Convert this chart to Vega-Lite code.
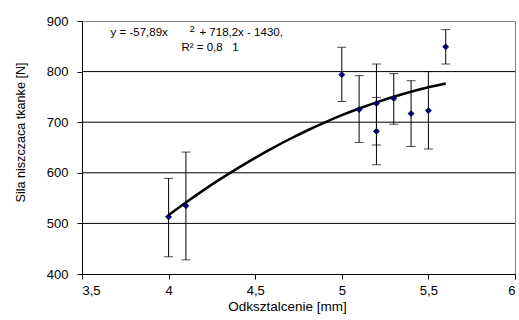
{
  "$schema": "https://vega.github.io/schema/vega-lite/v6.json",
  "width": 433,
  "height": 253,
  "autosize": "none",
  "padding": {"left": 82, "top": 21, "right": 4, "bottom": 46},
  "background": "white",
  "config": {
    "font": "Liberation Sans",
    "view": {"stroke": "#808080", "strokeWidth": 1},
    "axis": {"labelFont": "Liberation Sans", "titleFont": "Liberation Sans", "labelFontSize": 13, "titleFontSize": 13, "titleFontWeight": "normal", "labelColor": "#000", "titleColor": "#000", "domainColor": "#000", "tickColor": "#000"}
  },
  "datasets": {
    "points": [
      {"x": 4.0, "y": 513, "lo": 434, "hi": 589},
      {"x": 4.1, "y": 535, "lo": 428, "hi": 641},
      {"x": 5.0, "y": 794, "lo": 741, "hi": 848},
      {"x": 5.1, "y": 725, "lo": 660, "hi": 792},
      {"x": 5.2, "y": 737, "lo": 655, "hi": 815},
      {"x": 5.2, "y": 682, "lo": 616, "hi": 749},
      {"x": 5.3, "y": 747, "lo": 696, "hi": 796},
      {"x": 5.4, "y": 717, "lo": 652, "hi": 782},
      {"x": 5.5, "y": 723, "lo": 647, "hi": 800},
      {"x": 5.6, "y": 849, "lo": 815, "hi": 883}
    ],
    "trend": [
      {"x": 4.0, "y": 516.6}, {"x": 4.1, "y": 541.5}, {"x": 4.2, "y": 565.3}, {"x": 4.3, "y": 587.9},
      {"x": 4.4, "y": 609.3}, {"x": 4.5, "y": 629.6}, {"x": 4.6, "y": 648.8}, {"x": 4.7, "y": 666.8},
      {"x": 4.8, "y": 683.6}, {"x": 4.9, "y": 699.2}, {"x": 5.0, "y": 713.8}, {"x": 5.1, "y": 727.1},
      {"x": 5.2, "y": 739.3}, {"x": 5.3, "y": 750.3}, {"x": 5.4, "y": 760.2}, {"x": 5.5, "y": 768.9},
      {"x": 5.6, "y": 776.5}
    ],
    "labels": [
      {"x": 3.665, "y": 877, "text": "y = -57,89x", "size": 11.5},
      {"x": 4.12, "y": 884, "text": "2", "size": 9.5},
      {"x": 4.178, "y": 877, "text": "+ 718,2x - 1430,", "size": 11.5},
      {"x": 4.074, "y": 846, "text": "R² = 0,8\u00a0\u00a0\u00a01", "size": 11.5}
    ]
  },
  "layer": [
    {
      "data": {"values": [{"v": 500}, {"v": 600}, {"v": 700}, {"v": 800}]},
      "mark": {"type": "rule", "color": "#000", "strokeWidth": 1},
      "encoding": {"y": {"field": "v", "type": "quantitative", "scale": {"domain": [400, 900], "nice": false}}}
    },
    {
      "data": {"name": "trend"},
      "mark": {"type": "line", "color": "#000", "strokeWidth": 2.5, "interpolate": "monotone"},
      "encoding": {
        "x": {"field": "x", "type": "quantitative", "scale": {"domain": [3.5, 6], "nice": false, "zero": false},
          "axis": {"values": [3.5, 4, 4.5, 5, 5.5, 6], "grid": false, "title": "Odksztalcenie [mm]", "labelExpr": "replace(format(datum.value, '.1~f'), '.', ',')", "tickSize": 5, "labelPadding": 5, "titleX": 205, "titleY": 32, "titleBaseline": "middle", "titleFontSize": 13.5}},
        "y": {"field": "y", "type": "quantitative", "scale": {"domain": [400, 900], "nice": false, "zero": false},
          "axis": {"values": [400, 500, 600, 700, 800, 900], "grid": false, "title": "Sila niszczaca tkanke [N]", "tickSize": 5, "labelPadding": 9, "titleX": -62, "titleY": 111, "titleBaseline": "middle", "titleAngle": -90, "titleFontSize": 12.6}}
      }
    },
    {
      "data": {"name": "points"},
      "mark": {"type": "rule", "color": "#000", "strokeWidth": 1},
      "encoding": {
        "x": {"field": "x", "type": "quantitative"},
        "y": {"field": "lo", "type": "quantitative"},
        "y2": {"field": "hi"}
      }
    },
    {
      "data": {"name": "points"},
      "mark": {"type": "tick", "color": "#000", "orient": "horizontal", "size": 9, "thickness": 1},
      "encoding": {
        "x": {"field": "x", "type": "quantitative"},
        "y": {"field": "lo", "type": "quantitative"}
      }
    },
    {
      "data": {"name": "points"},
      "mark": {"type": "tick", "color": "#000", "orient": "horizontal", "size": 9, "thickness": 1},
      "encoding": {
        "x": {"field": "x", "type": "quantitative"},
        "y": {"field": "hi", "type": "quantitative"}
      }
    },
    {
      "data": {"name": "points"},
      "mark": {"type": "point", "shape": "diamond", "filled": true, "color": "#00007f", "stroke": "#000", "strokeWidth": 0.5, "size": 40, "opacity": 1},
      "encoding": {
        "x": {"field": "x", "type": "quantitative"},
        "y": {"field": "y", "type": "quantitative"}
      }
    },
    {
      "data": {"name": "labels"},
      "mark": {"type": "text", "align": "left", "baseline": "middle", "color": "#000", "font": "Liberation Sans"},
      "encoding": {
        "x": {"field": "x", "type": "quantitative"},
        "y": {"field": "y", "type": "quantitative"},
        "text": {"field": "text"},
        "size": {"field": "size", "type": "quantitative", "scale": null}
      }
    }
  ]
}
